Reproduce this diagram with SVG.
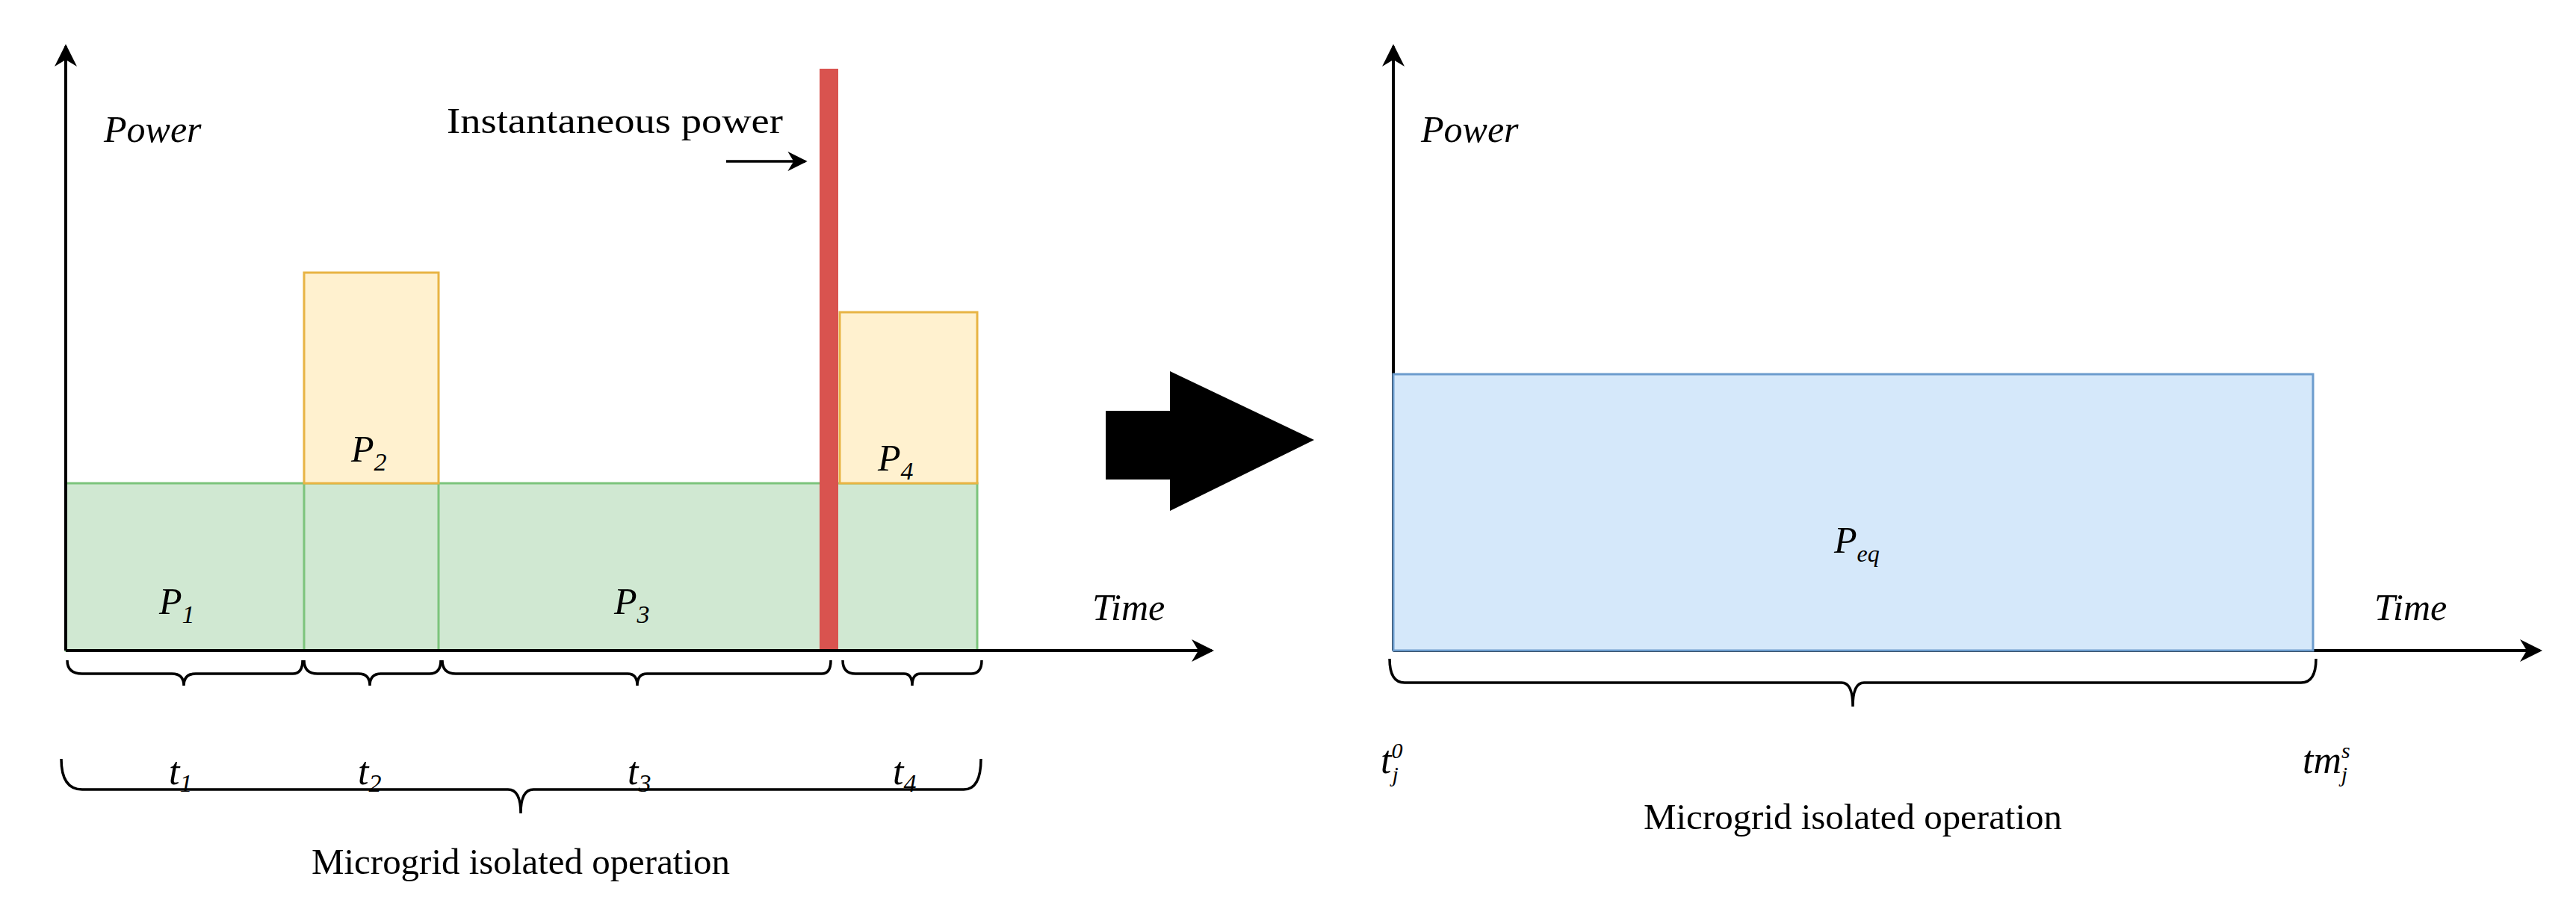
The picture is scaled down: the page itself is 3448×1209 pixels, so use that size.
<svg xmlns="http://www.w3.org/2000/svg" width="3448" height="1209" viewBox="0 0 3448 1209">
<style>
.t{font-family:"Liberation Serif",serif;fill:#000}
.i{font-style:italic}
.ax{stroke:#000;stroke-width:4;fill:none}
.br{stroke:#000;stroke-width:3.5;fill:none}
.g{fill:#d0e8d2;stroke:#7cc47c;stroke-width:3}
.y{fill:#fff1cf;stroke:#e8b444;stroke-width:3}
</style>
<defs>
<marker id="ah2" viewBox="0 0 10 10" refX="9" refY="5" markerWidth="7.5" markerHeight="7.5" orient="auto"><path d="M0,0 L10,5 L0,10 L3,5 Z" fill="#000"/></marker>
</defs>
<rect width="3448" height="1209" fill="#fff"/>
<g id="left-bars">
<rect class="g" x="88" y="647" width="1220" height="224"/>
<line x1="407" y1="647" x2="407" y2="871" stroke="#7cc47c" stroke-width="3"/>
<line x1="587" y1="647" x2="587" y2="871" stroke="#7cc47c" stroke-width="3"/>
<rect class="y" x="407" y="365" width="180" height="282"/>
<rect class="y" x="1124" y="418" width="184" height="229"/>
<rect x="1097" y="92" width="25" height="779" fill="#d9534f"/>
</g>
<g id="connectors">
<line class="ax" x1="88" y1="871" x2="88" y2="62" marker-end="url(#ah2)"/>
<line class="ax" x1="88" y1="871" x2="1622" y2="871" marker-end="url(#ah2)"/>
<line x1="972" y1="216" x2="1078" y2="216" stroke="#000" stroke-width="3.5" marker-end="url(#ah2)"/>
<line class="ax" x1="1865" y1="871" x2="1865" y2="62" marker-end="url(#ah2)"/>
<line class="ax" x1="1865" y1="871" x2="3400" y2="871" marker-end="url(#ah2)"/>
<path d="M1480,550 H1566 V497 L1759,589 L1566,684 V642 H1480 Z" fill="#000"/>
</g>
<g id="right-bar">
<rect x="1865" y="501" width="1231" height="370" fill="#d5e8fa" stroke="#6c9ccd" stroke-width="3"/>
</g>
<g id="braces">
<path class="br" d="M90,884 Q90,902 110,902 H230 Q246,902 246,918 Q246,902 262,902 H392 Q405,902 405,884"/>
<path class="br" d="M407,884 Q407,902 425,902 H480 Q495,902 495,918 Q495,902 510,902 H575 Q590,902 590,884"/>
<path class="br" d="M592,884 Q592,902 610,902 H840 Q853,902 853,918 Q853,902 866,902 H1100 Q1112,902 1112,884"/>
<path class="br" d="M1128,884 Q1128,902 1145,902 H1210 Q1221,902 1221,918 Q1221,902 1232,902 H1300 Q1314,902 1314,884"/>
<path class="br" d="M82,1016 Q82,1057 110,1057 H680 Q697,1057 697,1089 Q697,1057 714,1057 H1290 Q1313,1057 1313,1016"/>
<path class="br" d="M1860,882 Q1860,914 1880,914 H2465 Q2480,914 2480,946 Q2480,914 2495,914 H3080 Q3100,914 3100,882"/>
</g>
<g id="labels">
<text class="t i" x="139" y="190" font-size="50">Power</text>
<text class="t" x="598" y="178" font-size="48" textLength="450" lengthAdjust="spacingAndGlyphs">Instantaneous power</text>
<text class="t i" x="213" y="822" font-size="50">P<tspan font-size="34" dy="12">1</tspan></text>
<text class="t i" x="470" y="618" font-size="50">P<tspan font-size="34" dy="12">2</tspan></text>
<text class="t i" x="822" y="822" font-size="50">P<tspan font-size="34" dy="12">3</tspan></text>
<text class="t i" x="1175" y="630" font-size="50">P<tspan font-size="34" dy="12">4</tspan></text>
<text class="t i" x="1462" y="830" font-size="50">Time</text>
<text class="t i" x="226" y="1050" font-size="52">t<tspan font-size="34" dy="10">1</tspan></text>
<text class="t i" x="479" y="1050" font-size="52">t<tspan font-size="34" dy="10">2</tspan></text>
<text class="t i" x="840" y="1050" font-size="52">t<tspan font-size="34" dy="10">3</tspan></text>
<text class="t i" x="1195" y="1050" font-size="52">t<tspan font-size="34" dy="10">4</tspan></text>
<text class="t" x="697" y="1170" font-size="48" text-anchor="middle" textLength="560" lengthAdjust="spacingAndGlyphs">Microgrid isolated operation</text>
<text class="t i" x="1902" y="190" font-size="50">Power</text>
<text class="t i" x="2455" y="740" font-size="50">P<tspan font-size="32" dy="12">eq</tspan></text>
<text class="t i" x="3178" y="830" font-size="50">Time</text>
<text class="t i" x="1848" y="1035" font-size="52">t<tspan font-size="30" dy="-20">0</tspan><tspan font-size="30" dx="-14" dy="32">j</tspan></text>
<text class="t i" x="3082" y="1035" font-size="52">tm<tspan font-size="30" dy="-20">s</tspan><tspan font-size="30" dx="-12" dy="32">j</tspan></text>
<text class="t" x="2480" y="1110" font-size="48" text-anchor="middle" textLength="560" lengthAdjust="spacingAndGlyphs">Microgrid isolated operation</text>
</g>
</svg>
